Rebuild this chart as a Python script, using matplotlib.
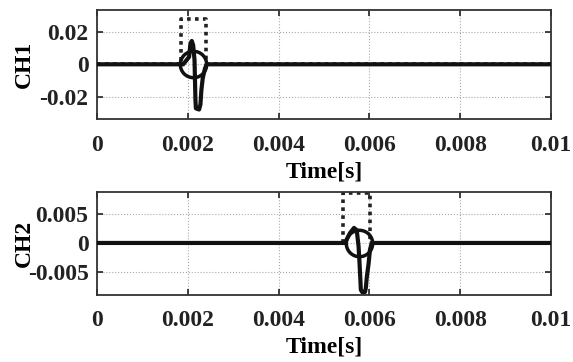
import matplotlib
matplotlib.use("Agg")
from matplotlib import pyplot as plt

plt.rcParams['font.family'] = ['Liberation Serif', 'DejaVu Serif']
plt.rcParams['font.weight'] = 'bold'

xticks = [0, 0.002, 0.004, 0.006, 0.008, 0.01]
xtick_labels = ['0', '0.002', '0.004', '0.006', '0.008', '0.01']

# channel 1
ch1_yticks = [-0.02, 0, 0.02]
ch1_ytick_labels = ['-0.02', '0', '0.02']
ch1_pulse_x = [0, 0.00186, 0.00186, 0.0024, 0.0024, 0.01]
ch1_pulse_y = [0, 0, 0.0277, 0.0277, 0, 0]
ch1_sig_x = [0, 0.00190, 0.00203, 0.00206, 0.00209, 0.00212, 0.00215, 0.00216, 0.00217,
             0.00218, 0.00225, 0.00228, 0.00230, 0.00233, 0.00238, 0.00242, 0.01]
ch1_sig_y = [0, 0, 0.0045, 0.0127, 0.0143, 0.0117, 0.0025, -0.0098, -0.022,
             -0.027, -0.0277, -0.0246, -0.016, -0.0086, -0.0025, 0, 0]
ch1_mark = (0.00211, 0)

# channel 2
ch2_yticks = [-0.005, 0, 0.005]
ch2_ytick_labels = ['-0.005', '0', '0.005']
ch2_pulse_x = [0, 0.00542, 0.00542, 0.00601, 0.00601, 0.01]
ch2_pulse_y = [0, 0, 0.0087, 0.0087, 0, 0]
ch2_sig_x = [0, 0.00546, 0.00557, 0.00566, 0.00572, 0.00576, 0.00578, 0.00580, 0.00581,
             0.00584, 0.00590, 0.00592, 0.00594, 0.00598, 0.00601, 0.00605, 0.01]
ch2_sig_y = [0, 0, 0.0017, 0.0026, 0.0022, -0.0006, -0.0033, -0.0064, -0.0081,
             -0.0085, -0.0085, -0.0078, -0.0060, -0.0036, -0.0012, 0, 0]
ch2_mark = (0.00576, 0)

fig = plt.figure(figsize=(5.73, 3.62), dpi=100)
ax1 = fig.add_axes([0.169, 0.670, 0.793, 0.302])
ax2 = fig.add_axes([0.169, 0.185, 0.793, 0.2845])

def style(ax, yticks, ylabels, ylim, name):
	ax.plot(px, py, color='#222222', lw=2.6, ls=(0, (1, 1.2)), zorder=2)
	ax.plot(sx, sy, color='#111111', lw=3, solid_joinstyle='round', zorder=3)
	ax.plot([mk[0]], [mk[1]], 'o', ms=19, mfc='none', mec='#111111', mew=2.5, zorder=4)
	ax.set_xlim(0, 0.01)
	ax.set_ylim(*ylim)
	ax.set_xticks(xticks)
	ax.set_xticklabels(xtick_labels)
	ax.set_yticks(yticks)
	ax.set_yticklabels(ylabels)
	ax.grid(True, color='#aaaaaa', ls=':', lw=0.8)
	ax.tick_params(direction='in', top=True, right=True, length=4, width=1.2,
		labelsize=17, colors='#222222')
	ax.tick_params(axis='x', pad=11)
	ax.tick_params(axis='y', pad=6)
	for s in ax.spines.values():
		s.set_linewidth(1.3)
		s.set_color('#333333')
	ax.set_xlabel('Time[s]', fontsize=17, fontweight='bold', labelpad=4)
	ax.set_ylabel(name, fontsize=17, fontweight='bold')
	ax.yaxis.set_label_coords(-0.136, 0.5)

px, py, sx, sy, mk = ch1_pulse_x, ch1_pulse_y, ch1_sig_x, ch1_sig_y, ch1_mark
style(ax1, ch1_yticks, ch1_ytick_labels, (-0.0338, 0.0332), 'CH1')
px, py, sx, sy, mk = ch2_pulse_x, ch2_pulse_y, ch2_sig_x, ch2_sig_y, ch2_mark
style(ax2, ch2_yticks, ch2_ytick_labels, (-0.0090, 0.0088), 'CH2')

fig.savefig('out.png', dpi=100)
